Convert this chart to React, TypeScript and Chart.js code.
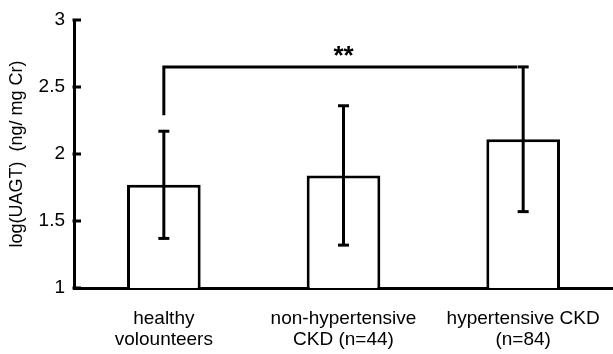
import React, { useEffect, useRef } from "react";
import { Chart, registerables } from "chart.js";

Chart.register(...registerables);

const categories: string[][] = [
  ["healthy", "volounteers"],
  ["non-hypertensive", "CKD (n=44)"],
  ["hypertensive CKD", "(n=84)"],
];
const means: number[] = [1.77, 1.84, 2.11];
const sds: number[] = [0.4, 0.52, 0.54];
const yTicks: number[] = [1, 1.5, 2, 2.5, 3];
const bracketLevel = 2.65;
const bracketLeftEnd = 2.29;
const bracketLabel = "**";
const yTitle = "log(UAGT)  (ng/ mg Cr)";

const FONT = "'Liberation Sans', Arial, Helvetica, sans-serif";

const overlayPlugin = {
  id: "overlay",
  afterDraw(chart: any) {
    const { ctx, chartArea } = chart;
    const x = chart.scales.x;
    const y = chart.scales.y;
    ctx.save();
    ctx.strokeStyle = "#000";
    ctx.fillStyle = "#000";
    ctx.lineWidth = 3;
    ctx.lineCap = "butt";
    const line = (x1: number, y1: number, x2: number, y2: number) => {
      ctx.beginPath();
      ctx.moveTo(x1, y1);
      ctx.lineTo(x2, y2);
      ctx.stroke();
    };
    // inward tick marks
    yTicks.forEach((v) => {
      const py = y.getPixelForValue(v);
      line(chartArea.left - 1.5, py, chartArea.left + 7, py);
    });
    // error bars
    means.forEach((m, i) => {
      const px = x.getPixelForValue(i);
      const hi = y.getPixelForValue(m + sds[i]);
      const lo = y.getPixelForValue(m - sds[i]);
      line(px, hi, px, lo);
      line(px - 5.5, hi, px + 5.5, hi);
      line(px - 5.5, lo, px + 5.5, lo);
    });
    // significance bracket
    const bx1 = x.getPixelForValue(0);
    const bx2 = x.getPixelForValue(2) - 6;
    const by = y.getPixelForValue(bracketLevel);
    const byl = y.getPixelForValue(bracketLeftEnd);
    ctx.beginPath();
    ctx.moveTo(bx1, byl);
    ctx.lineTo(bx1, by);
    ctx.lineTo(bx2, by);
    ctx.stroke();
    ctx.font = `bold 26px ${FONT}`;
    ctx.textAlign = "center";
    ctx.textBaseline = "alphabetic";
    ctx.fillText(bracketLabel, x.getPixelForValue(1), by - 3);
    ctx.restore();
  },
};

export default function App() {
  const canvasRef = useRef<HTMLCanvasElement>(null);

  useEffect(() => {
    document.body.style.margin = "0";
    const canvas = canvasRef.current;
    if (!canvas) return;
    const chart = new Chart(canvas, {
      type: "bar",
      data: {
        labels: categories,
        datasets: [
          {
            data: means,
            backgroundColor: "#fff",
            borderColor: "#000",
            borderWidth: 3,
            borderSkipped: "start",
            categoryPercentage: 1,
            barPercentage: 0.41,
          },
        ],
      },
      options: {
        animation: false,
        responsive: false,
        devicePixelRatio: 1,
        layout: { padding: { top: 20, right: 0, left: 0, bottom: 0 } },
        plugins: {
          legend: { display: false },
          tooltip: { enabled: false },
        },
        scales: {
          x: {
            grid: { display: false, drawTicks: false },
            border: { display: true, color: "#000", width: 3 },
            ticks: {
              color: "#000",
              font: { family: FONT, size: 19, lineHeight: 1.1 },
              padding: 20,
              maxRotation: 0,
              autoSkip: false,
            },
            afterFit: (scale: any) => {
              scale.height = 66;
              scale.paddingLeft = 0;
              scale.paddingRight = 0;
            },
          },
          y: {
            min: 1,
            max: 3,
            afterBuildTicks: (scale: any) => {
              scale.ticks = yTicks.map((v) => ({ value: v }));
            },
            grid: { display: false, drawTicks: false },
            border: { display: true, color: "#000", width: 3 },
            ticks: {
              color: "#000",
              font: { family: FONT, size: 19 },
              padding: 9,
              callback: (v: any) => String(v),
            },
            title: {
              display: true,
              text: yTitle,
              color: "#000",
              font: { family: FONT, size: 18 },
              padding: { top: 6, bottom: 0 },
            },
            afterFit: (scale: any) => {
              scale.width = 74;
              scale.paddingTop = 0;
              scale.paddingBottom = 0;
            },
          },
        },
      },
      plugins: [overlayPlugin],
    });
    return () => chart.destroy();
  }, []);

  return (
    <div style={{ position: "fixed", left: 0, top: 0, width: 613, height: 354, background: "#fff" }}>
      <canvas ref={canvasRef} width={613} height={354} style={{ width: 613, height: 354 }} />
    </div>
  );
}
